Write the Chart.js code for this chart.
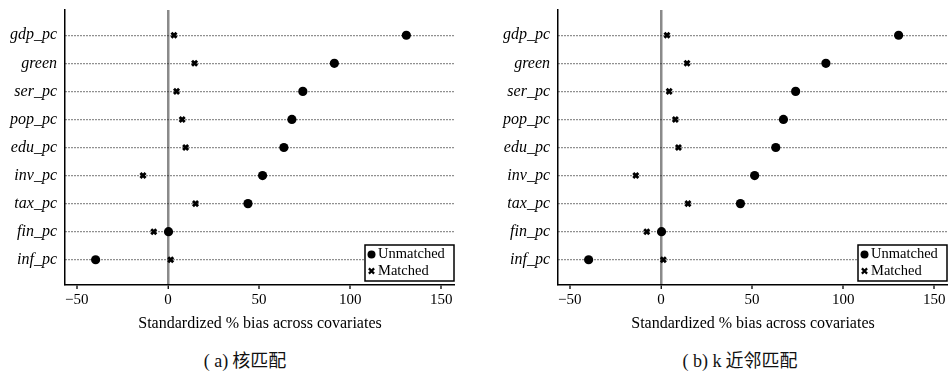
<!DOCTYPE html>
<html>
<head>
<meta charset="utf-8">
<script src="https://cdn.jsdelivr.net/npm/chart.js@4"></script>
<style>
  html, body { margin: 0; padding: 0; background: #fff; width: 949px; height: 378px; overflow: hidden; }
  .panel { position: absolute; top: 0; }
  .cap { position: absolute; top: 346px; font-family: "Noto Sans CJK SC", "Liberation Serif", serif; font-size: 18px; color: #111; white-space: nowrap; transform: translateX(-50%); }
</style>
</head>
<body>
<div class="panel" style="left:0px;width:470px;height:337px"><canvas id="chartA" width="470" height="337"></canvas></div>
<div class="panel" style="left:493px;width:480px;height:337px"><canvas id="chartB" width="480" height="337"></canvas></div>
<div class="cap" style="left:245px"><span style="font-family:'Liberation Serif'">( a)</span> 核匹配</div>
<div class="cap" style="left:740px"><span style="font-family:'Liberation Serif'">( b) k</span> 近邻匹配</div>
<script>
const covariates = ['gdp_pc', 'green', 'ser_pc', 'pop_pc', 'edu_pc', 'inv_pc', 'tax_pc', 'fin_pc', 'inf_pc'];
const xTicks = [-50, 0, 50, 100, 150];

// (a) kernel matching
const unmatchedA = [130.8, 91.3, 74.0, 68.0, 63.6, 51.9, 43.9, 0.3, -39.7];
const matchedA = [3.3, 14.6, 4.7, 7.8, 9.7, -13.7, 15.1, -7.8, 1.5];

// (b) k nearest neighbour matching
const unmatchedB = [130.4, 90.5, 73.9, 67.2, 63.0, 51.4, 43.6, 0.3, -39.7];
const matchedB = [3.3, 14.3, 4.5, 7.9, 9.6, -13.8, 14.8, -7.8, 1.3];

const serif = "'Liberation Serif', 'Times New Roman', serif";

// legend box drawn inside the plot, bottom right
const boxLegend = {
  id: 'boxLegend',
  afterDraw(chart) {
    const { ctx, chartArea } = chart;
    const w = 89, h = 36;
    const x = chartArea.right - w - 1, y = chartArea.bottom - h - 4;
    ctx.save();
    ctx.fillStyle = '#fff';
    ctx.fillRect(x, y, w, h);
    ctx.strokeStyle = '#000';
    ctx.lineWidth = 1.5;
    ctx.strokeRect(x, y, w, h);
    ctx.fillStyle = '#000';
    ctx.beginPath();
    ctx.arc(x + 6.5, y + 9.5, 4, 0, Math.PI * 2);
    ctx.fill();
    ctx.lineWidth = 2.2;
    const cx = x + 6.5, cy = y + 26, r = 2.6;
    ctx.beginPath();
    ctx.moveTo(cx - r, cy - r); ctx.lineTo(cx + r, cy + r);
    ctx.moveTo(cx + r, cy - r); ctx.lineTo(cx - r, cy + r);
    ctx.stroke();
    ctx.font = '14.5px ' + serif;
    ctx.textBaseline = 'middle';
    ctx.fillText('Unmatched', x + 13, y + 9.5);
    ctx.fillText('Matched', x + 13, y + 26);
    ctx.restore();
  }
};

function makeChart(id, unmatched, matched, rightPad) {
  const toPts = arr => arr.map((v, i) => ({ x: v, y: i + 1 }));
  new Chart(document.getElementById(id), {
    type: 'scatter',
    data: {
      datasets: [
        {
          label: 'Unmatched',
          data: toPts(unmatched),
          pointStyle: 'circle',
          pointRadius: 4.6,
          backgroundColor: '#000',
          borderColor: '#000',
          borderWidth: 0
        },
        {
          label: 'Matched',
          data: toPts(matched),
          pointStyle: 'crossRot',
          pointRadius: 3.6,
          borderColor: '#000',
          borderWidth: 2.8
        }
      ]
    },
    options: {
      responsive: false,
      animation: false,
      layout: { padding: { top: 10, right: rightPad, left: 0, bottom: 0 } },
      plugins: {
        legend: { display: false },
        tooltip: { enabled: false }
      },
      scales: {
        x: {
          type: 'linear',
          min: -56.5,
          max: 157.5,
          afterBuildTicks: axis => { axis.ticks = xTicks.map(v => ({ value: v })); },
          afterFit: s => { s.height = 52; },
          grid: {
            color: c => (c.tick && c.tick.value === 0 ? '#8a8a8a' : 'rgba(0,0,0,0)'),
            lineWidth: c => (c.tick && c.tick.value === 0 ? 2.5 : 0),
            tickColor: '#000',
            tickLength: 4,
            tickWidth: 1.3
          },
          border: { color: '#000', width: 1.5 },
          ticks: {
            color: '#000',
            font: { family: serif, size: 15 },
            padding: 2,
            maxRotation: 0,
            callback: v => (v < 0 ? '\u2212' + Math.abs(v) : String(v))
          },
          title: {
            display: true,
            text: 'Standardized % bias across covariates',
            color: '#000',
            font: { family: serif, size: 16 },
            padding: { top: 2, bottom: 4 }
          }
        },
        y: {
          type: 'linear',
          reverse: true,
          min: 0.1,
          max: 9.9,
          afterBuildTicks: axis => { axis.ticks = covariates.map((_, i) => ({ value: i + 1 })); },
          afterFit: s => { s.width = 65; s.paddingTop = 0; s.paddingBottom = 0; },
          grid: {
            color: '#222',
            lineWidth: 1.2,
            drawTicks: false
          },
          border: { color: '#000', width: 1.5, dash: [1, 2] },
          ticks: {
            color: '#000',
            font: { family: serif, size: 16, style: 'italic' },
            padding: 8,
            callback: v => covariates[v - 1] || ''
          }
        }
      }
    },
    plugins: [boxLegend]
  });
}

makeChart('chartA', unmatchedA, matchedA, 15);
makeChart('chartB', unmatchedB, matchedB, 25);
</script>
</body>
</html>
